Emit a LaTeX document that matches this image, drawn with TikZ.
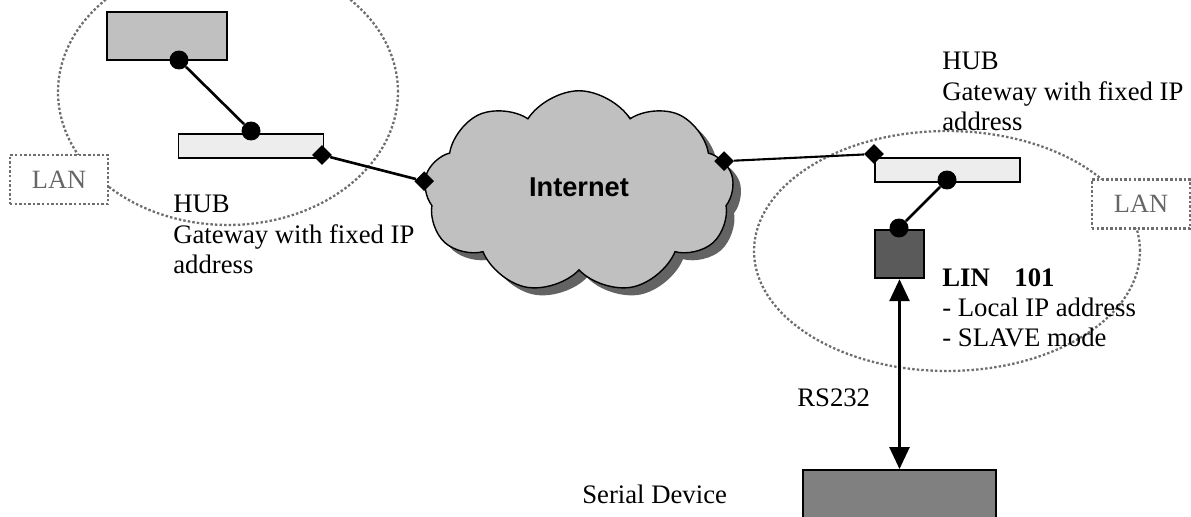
\documentclass[tikz,border=0pt]{standalone}
\usepackage{fontspec}
\setmainfont{Liberation Serif}
\newfontfamily\cloudfont{Liberation Sans}
\usepackage{xcolor}
\usepackage{tikz}
\usetikzlibrary{arrows.meta, positioning, shapes.geometric, shapes.symbols, shadows}

\definecolor{pcgray}{HTML}{C0C0C0}
\definecolor{hubgray}{HTML}{EDEDED}
\definecolor{lingray}{HTML}{5A5A5A}
\definecolor{devgray}{HTML}{808080}
\definecolor{lanline}{HTML}{6E6E6E}
\definecolor{lantext}{HTML}{666666}
\definecolor{shadegray}{HTML}{636363}

\tikzset{
    txt/.style = {font=\fontsize{15.2}{17.2}\selectfont, inner sep=0pt, align=left, anchor=north west},
    unit/.style = {draw, line width=1.1pt, inner sep=0pt},
    hubbox/.style = {unit, fill=hubgray, minimum width=2.9cm, minimum height=0.48cm},
    lanbox/.style = {draw=lanline, fill=white, dash pattern=on 1.4pt off 1.2pt, line width=1.3pt,
        minimum width=1.96cm, minimum height=0.98cm, inner sep=0pt, text=lantext,
        font=\fontsize{15}{17}\selectfont},
    lanring/.style = {draw=lanline, dash pattern=on 1.4pt off 1.2pt, line width=1.3pt},
    port/.style = {circle, fill=black, minimum size=0.38cm, inner sep=0pt},
    gate/.style = {diamond, fill=black, minimum size=0.4cm, inner sep=0pt},
    link/.style = {line width=1.5pt},
}

\begin{document}
\begin{tikzpicture}[x=0.02cm, y=-0.02cm]
    \useasboundingbox (0,0) rectangle (1191,517);
    \clip (0,0) rectangle (1191,517);

    % LAN rings
    \draw [lanring] (228,92) ellipse [x radius=3.4cm, y radius=2.66cm];
    \draw [lanring] (947,251) ellipse [x radius=3.86cm, y radius=2.4cm];
    \node (lan1) [lanbox] at (59,179.5) {LAN};
    \node (lan2) [lanbox] at (1141,204) {LAN};

    % internet cloud
    \node (net) [cloud, cloud puffs=9, cloud puff arc=115, cloud ignores aspect,
        draw, line width=0.8pt, fill=pcgray, minimum width=6.2cm, minimum height=4.05cm,
        drop shadow={shadow xshift=0.16cm, shadow yshift=-0.15cm, fill=shadegray, opacity=1},
        font=\cloudfont\bfseries\fontsize{15.5}{18}\selectfont] at (579,192)
        {\raisebox{0.2cm}{Internet}\hspace{0.16cm}};

    % left side
    \node (pc) [unit, fill=pcgray, minimum width=2.4cm, minimum height=0.96cm] at (167,36) {};
    \node (hub1) [hubbox] at (251,146) {};
    \node (pcport) [port] at (179,60) {};
    \node (hubport1) [port] at (251,131) {};
    \node (gw1) [gate] at (322,155) {};
    \node (netl) [gate] at (net.176) {};
    \draw [link] (pcport) -- (hubport1);
    \draw [link] (gw1) -- (netl);

    % right side
    \node (hub2) [hubbox] at (947.5,170) {};
    \node (lin) [unit, fill=lingray, minimum size=0.97cm] at (899.5,254) {};
    \node (dev) [unit, fill=devgray, minimum width=3.86cm, minimum height=1.2cm] at (899.5,500) {};
    \node (hubport2) [port] at (947,180) {};
    \node (linport) [port] at (899,228) {};
    \node (gw2) [gate] at (874,154) {};
    \node (netr) [gate] at (net.12) {};
    \draw [link] (hubport2) -- (linport);
    \draw [line width=1.2pt] (netr) -- (gw2);
    \draw [link, {Triangle[width=0.4cm,length=0.44cm]}-{Triangle[width=0.4cm,length=0.44cm]}]
        (lin) -- (dev);

    % labels
    \node (hubtxt1) [txt] at (173,195) {HUB\\Gateway with fixed IP\\address};
    \node (hubtxt2) [txt] at (942,52) {HUB\\Gateway with fixed IP\\address};
    \node (lintxt) [txt] at (942,268) {\textbf{LIN\hspace{14pt}101}\\- Local IP address\\- SLAVE mode};
    \node (rstxt) [txt] at (797,388) {RS232};
    \node (devtxt) [txt] at (582,485) {Serial Device};
\end{tikzpicture}
\end{document}
